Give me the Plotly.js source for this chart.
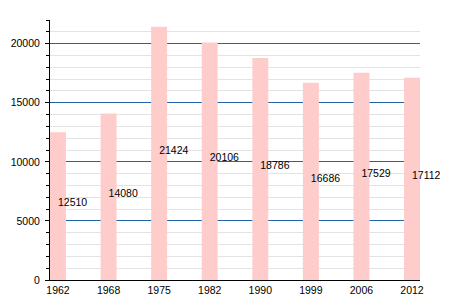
<!DOCTYPE html>
<html>
<head>
<meta charset="utf-8">
<script src="https://cdn.plot.ly/plotly-3.0.1.min.js"></script>
<style>html,body{margin:0;padding:0;background:#fff;}</style>
</head>
<body>
<div id="chart" style="width:450px;height:300px;"></div>
<script>
const years = ["1962", "1968", "1975", "1982", "1990", "1999", "2006", "2012"];
const population = [12510, 14080, 21424, 20106, 18786, 16686, 17529, 17112];
const yTicks = [0, 5000, 10000, 15000, 20000];

const fontFamily = "Liberation Sans, Arial, sans-serif";

const data = [{
  type: "bar",
  x: years,
  y: population,
  width: 0.316,
  marker: {color: "#ffcccc", line: {width: 0}},
  hoverinfo: "skip"
}, {
  type: "scatter",
  mode: "text",
  x: years,
  y: population.map(v => v / 2 + 200),
  text: population.map(String),
  textposition: "middle right",
  textfont: {family: fontFamily, size: 10.5, color: "#000"},
  cliponaxis: false,
  hoverinfo: "skip"
}];

const layout = {
  width: 450,
  height: 300,
  margin: {l: 50, r: 30, t: 20, b: 20},
  paper_bgcolor: "#fff",
  plot_bgcolor: "#fff",
  showlegend: false,
  font: {family: fontFamily, size: 10.5, color: "#000"},
  xaxis: {
    type: "category",
    range: [-0.158, 7.158],
    showgrid: false,
    showline: true,
    linecolor: "#000",
    linewidth: 1,
    ticks: "",
    tickfont: {family: fontFamily, size: 10.5, color: "#000"},
    zeroline: false
  },
  yaxis: {
    range: [0, 22000],
    tickvals: yTicks,
    ticktext: yTicks.map(String),
    showgrid: true,
    gridcolor: "#1f64a8",
    gridwidth: 1,
    showline: true,
    linecolor: "#000",
    linewidth: 1,
    ticks: "outside",
    ticklen: 4,
    tickcolor: "#000",
    ticklabelstandoff: 3,
    tickfont: {family: fontFamily, size: 10.5, color: "#000"},
    zeroline: false,
    minor: {
      dtick: 1000,
      showgrid: true,
      gridcolor: "#e3e3e3",
      gridwidth: 1,
      ticks: "outside",
      ticklen: 3,
      tickcolor: "#000"
    }
  }
};

Plotly.newPlot("chart", data, layout, {displayModeBar: false, staticPlot: true});
</script>
</body>
</html>
